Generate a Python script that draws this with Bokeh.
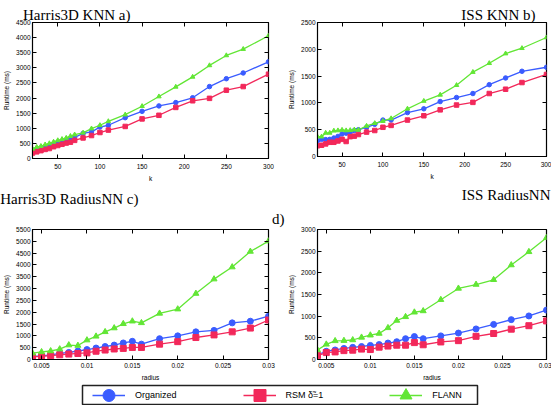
from bokeh.plotting import figure
from bokeh.layouts import column, row
from bokeh.models import (Range1d, FixedTicker, LinearAxis, Title, Legend,
                          LegendItem, NumeralTickFormatter)
from bokeh.embed import file_html
from bokeh.resources import INLINE

# ---------------- data ----------------
k_vals = [20, 25, 30, 35, 40, 45, 50, 55, 60, 65, 70, 80, 90, 100, 110,
          130, 150, 170, 190, 210, 230, 250, 270, 300]
radius_vals = [0.004, 0.005, 0.006, 0.007, 0.008, 0.009, 0.010, 0.011, 0.012,
               0.013, 0.014, 0.015, 0.016, 0.018, 0.020, 0.022, 0.024, 0.026,
               0.028, 0.030]

harris_knn_organized = [280, 300, 330, 370, 420, 470, 520, 560, 600, 660, 700, 830,
                        880, 1040, 1100, 1350, 1560, 1740, 1850, 2010, 2380, 2640, 2830, 3200]
harris_knn_rsm = [180, 220, 260, 300, 330, 390, 430, 470, 510, 540, 600, 680,
                  760, 860, 940, 1060, 1310, 1430, 1690, 1910, 1990, 2260, 2380, 2790]
harris_knn_flann = [320, 380, 410, 460, 500, 550, 600, 640, 680, 740, 790, 850,
                    990, 1100, 1230, 1450, 1730, 2050, 2370, 2700, 3080, 3410, 3620, 4060]

iss_knn_organized = [295, 320, 315, 320, 345, 375, 420, 435, 455, 485, 500, 545,
                     600, 680, 680, 820, 890, 1025, 1100, 1175, 1340, 1465, 1590, 1665]
iss_knn_rsm = [200, 210, 235, 265, 265, 290, 320, 280, 370, 380, 410, 455,
               485, 545, 580, 680, 760, 870, 960, 1010, 1175, 1255, 1380, 1530]
iss_knn_flann = [370, 370, 440, 440, 480, 485, 495, 485, 490, 500, 495, 570,
                 620, 660, 710, 890, 1035, 1150, 1330, 1575, 1740, 1920, 2020, 2220]

harris_rad_organized = [135, 150, 200, 255, 300, 360, 420, 485, 550, 610, 700, 770,
                        650, 880, 1000, 1170, 1230, 1550, 1620, 1830]
harris_rad_rsm = [110, 135, 160, 200, 230, 255, 280, 350, 400, 445, 470, 510,
                  510, 650, 755, 930, 1040, 1170, 1330, 1670]
harris_rad_flann = [270, 320, 360, 440, 610, 590, 820, 980, 1170, 1330, 1510, 1620,
                    1550, 1950, 2130, 2790, 3400, 3910, 4570, 5010]

iss_rad_organized = [110, 190, 220, 255, 280, 300, 325, 345, 380, 410, 480, 530,
                     480, 545, 610, 705, 810, 920, 1005, 1140]
iss_rad_rsm = [90, 160, 175, 205, 215, 240, 230, 285, 310, 330, 330, 390,
               340, 405, 435, 535, 600, 700, 780, 890]
iss_rad_flann = [220, 350, 430, 435, 450, 510, 560, 600, 730, 900, 985, 1090,
                 1120, 1380, 1640, 1730, 1840, 2180, 2485, 2810]

k_ticks = [50, 100, 150, 200, 250, 300]
radius_ticks = [0.005, 0.01, 0.015, 0.02, 0.025, 0.03]
series_names = ["Organized", "RSM \u03b4\u0303=1", "FLANN"]

# ---------------- style ----------------
BLUE = "#3a5cff"
RED = "#f2285a"
GREEN = "#62e635"
COLORS = [BLUE, RED, GREEN]
MARKERS = ["circle", "square", "triangle"]
SANS = "Liberation Sans"
SERIF = "Liberation Serif"
TICK_SIZE = "6.5px"


def make_plot(width, height, borders, xs, ys_list, x_range, y_max, x_ticks,
              xlabel, msize, radius=False):
    left, right, top, bottom = borders
    p = figure(width=width, height=height, output_backend="svg",
               toolbar_location=None, title_location=None,
               x_range=Range1d(*x_range), y_range=Range1d(0, y_max),
               min_border_left=left, min_border_right=right,
               min_border_top=top, min_border_bottom=bottom,
               background_fill_color="white", border_fill_color="white")
    p.grid.visible = False
    p.outline_line_color = "black"
    p.outline_line_width = 1.2
    y_ticks = list(range(0, y_max + 1, 500))
    p.xaxis.ticker = FixedTicker(ticks=x_ticks)
    p.yaxis.ticker = FixedTicker(ticks=y_ticks)
    if radius:
        p.xaxis.formatter = NumeralTickFormatter(format="0.[000]")
    p.xaxis.axis_label = xlabel
    p.yaxis.axis_label = "Runtime (ms)"
    for ax in (p.xaxis[0], p.yaxis[0]):
        ax.major_tick_in = 4
        ax.major_tick_out = 0
        ax.minor_tick_line_color = None
        ax.major_tick_line_color = "black"
        ax.axis_line_color = "black"
        ax.major_label_text_font = SANS
        ax.major_label_text_font_size = TICK_SIZE
        ax.major_label_text_color = "black"
        ax.axis_label_text_font = SANS
        ax.axis_label_text_font_size = TICK_SIZE
        ax.axis_label_text_font_style = "normal"
        ax.axis_label_text_color = "black"
    p.xaxis.major_label_standoff = 5 if not radius else 3
    p.xaxis.axis_label_standoff = 3
    p.yaxis.major_label_standoff = 2
    p.yaxis.axis_label_standoff = 3
    # mirrored inward ticks on top and right (no labels)
    for loc, ticks in (("above", x_ticks), ("right", y_ticks)):
        ax = LinearAxis(ticker=FixedTicker(ticks=ticks),
                        major_label_text_font_size="0px",
                        major_label_text_color=None,
                        major_label_standoff=0, axis_line_color=None,
                        major_tick_in=4, major_tick_out=0,
                        minor_tick_line_color=None,
                        major_tick_line_color="black")
        p.add_layout(ax, loc)
    for ys, c, m in zip(ys_list, COLORS, MARKERS):
        p.line(xs, ys, line_color=c, line_width=1.3)
        p.scatter(xs, ys, marker=m, size=msize, fill_color=c, line_color=c)
    return p


def add_title(p, text, offset, standoff=0, side="above"):
    # right-aligned: right edge of the text = frame right - offset
    p.add_layout(Title(text=text, align="right", offset=offset, standoff=standoff,
                       text_font=SERIF, text_font_size="15px",
                       text_font_style="normal", text_color="black"), side)


# left column: a (0..184), c (184..383)
pa = make_plot(285, 184, (30, 17, 22, 26), k_vals,
               [harris_knn_organized, harris_knn_rsm, harris_knn_flann],
               (20, 300), 4500, k_ticks, "k", 4.5)
add_title(pa, "Harris3D KNN a)", 138)

pc = make_plot(285, 199, (30, 17, 45, 22), radius_vals,
               [harris_rad_organized, harris_rad_rsm, harris_rad_flann],
               (0.004, 0.03), 5500, radius_ticks, "radius", 6, radius=True)
add_title(pc, "d)", -16, standoff=5)
add_title(pc, "Harris3D RadiusNN c)", 130)

# right column: b (0..204, its lower margin carries the next title), d (204..383)
pb = make_plot(266, 204, (28, 5, 22, 46), k_vals,
               [iss_knn_organized, iss_knn_rsm, iss_knn_flann],
               (20, 300), 2500, k_ticks, "k", 4.5)
add_title(pb, "ISS KNN b)", 11)
add_title(pb, "ISS RadiusNN", -4, standoff=4, side="below")

pd = make_plot(266, 179, (28, 5, 25, 22), radius_vals,
               [iss_rad_organized, iss_rad_rsm, iss_rad_flann],
               (0.004, 0.03), 3000, radius_ticks, "radius", 6, radius=True)

# legend strip
pl = figure(width=551, height=22, output_backend="svg", toolbar_location=None,
            title_location=None,
            x_range=Range1d(0, 1), y_range=Range1d(0, 1),
            x_axis_type=None, y_axis_type=None,
            min_border_left=82, min_border_right=74,
            min_border_top=2, min_border_bottom=1,
            background_fill_color="white", border_fill_color="white")
pl.grid.visible = False
pl.outline_line_color = "#222222"
pl.outline_line_width = 1.5
items = []
for ys, c, m, name in zip([harris_knn_organized, harris_knn_rsm, harris_knn_flann],
                          COLORS, MARKERS, series_names):
    lr = pl.line(k_vals, ys, line_color=c, line_width=1.3)
    sr = pl.scatter(k_vals, ys, marker=m, size=12, fill_color=c, line_color=c)
    items.append(LegendItem(label=name, renderers=[lr, sr]))
legend = Legend(items=items, orientation="horizontal", location=(10, -5.5),
                glyph_width=33, glyph_height=30, label_height=30,
                label_standoff=10, spacing=66, padding=0, margin=0,
                border_line_color=None, background_fill_alpha=0,
                label_text_font=SANS, label_text_font_size="9px",
                label_text_color="black")
pl.add_layout(legend, "center")

layout = column(row(column(pa, pc), column(pb, pd)), pl)

open("out.html", "w").write(file_html(layout, INLINE))
